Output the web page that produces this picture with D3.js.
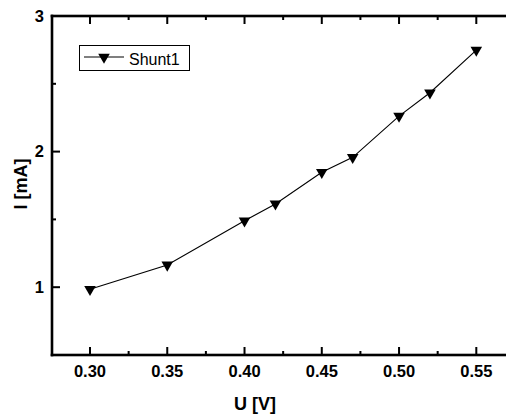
<!DOCTYPE html>
<html><head><meta charset="utf-8">
<script src="https://cdn.jsdelivr.net/npm/d3@7"></script>
<style>body{margin:0;background:#fff}svg{display:block}</style>
</head><body><svg id="c" width="506" height="414"></svg>
<script>
const voltages = [0.30, 0.35, 0.40, 0.42, 0.45, 0.47, 0.50, 0.52, 0.55];
const currents = [0.985, 1.164, 1.49, 1.614, 1.847, 1.958, 2.262, 2.434, 2.749];
const seriesName = "Shunt1";
const xTicks = [0.30, 0.35, 0.40, 0.45, 0.50, 0.55];
const xMinor = [0.325, 0.375, 0.425, 0.475, 0.525];
const yTicks = [1, 2, 3];
const yMinor = [1.5, 2.5];

const svg = d3.select("#c");
const L = 52, T = 16, R = 516, B = 355;
const x = d3.scaleLinear().domain([0.27541, 0.57569]).range([L, R]);
const y = d3.scaleLinear().domain([0.5, 3]).range([B, T]);
const font = "Liberation Sans, Arial, sans-serif";
const xf = d3.format(".2f"), yf = d3.format("d");

// frame
const fc = "#000";
svg.append("rect").attr("x",L-1.3).attr("y",T-1.3).attr("width",2.6).attr("height",B-T+2.6).attr("fill",fc);
svg.append("rect").attr("x",L-1.3).attr("y",T-1.3).attr("width",R-L+2.6).attr("height",2.6).attr("fill",fc);
svg.append("rect").attr("x",L-1.3).attr("y",B-1.3).attr("width",R-L+2.6).attr("height",2.6).attr("fill",fc);
svg.append("rect").attr("x",R-1.3).attr("y",T-1.3).attr("width",2.6).attr("height",B-T+2.6).attr("fill",fc);

// inward ticks
const tk = svg.append("g").attr("fill","#000");
function vt(vals, len){
  vals.forEach(v=>{
    tk.append("rect").attr("x",x(v)-1).attr("width",2).attr("y",B-len).attr("height",len);
    tk.append("rect").attr("x",x(v)-1).attr("width",2).attr("y",T).attr("height",len);
  });
}
function ht(vals, len){
  vals.forEach(v=>{
    tk.append("rect").attr("y",y(v)-1).attr("height",2).attr("x",L).attr("width",len);
    tk.append("rect").attr("y",y(v)-1).attr("height",2).attr("x",R-len).attr("width",len);
  });
}
vt(xTicks, 8); vt(xMinor, 4); ht(yTicks, 8); ht(yMinor, 4);

// tick labels
svg.append("g").selectAll("text").data(xTicks).join("text")
  .attr("x",d=>x(d)).attr("y",377).attr("text-anchor","middle")
  .attr("font-family",font).attr("font-weight","bold").attr("font-size",16.5).text(d=>xf(d));
svg.append("g").selectAll("text").data(yTicks).join("text")
  .attr("x",44).attr("y",d=>y(d)).attr("dy","0.35em").attr("text-anchor","end")
  .attr("font-family",font).attr("font-weight","bold").attr("font-size",16.5).text(d=>yf(d));

// series
svg.append("path")
  .datum(voltages.map((v,i)=>[v,currents[i]]))
  .attr("d", d3.line().x(d=>x(d[0])).y(d=>y(d[1])))
  .attr("fill","none").attr("stroke","#000").attr("stroke-width",1.1);
const tri = d3.symbol().type(d3.symbolTriangle).size(58)();
svg.selectAll("path.m").data(voltages).join("path").attr("class","m")
  .attr("d", tri)
  .attr("transform",(d,i)=>`translate(${x(d)},${y(currents[i])}) rotate(180)`)
  .attr("fill","#000");

// titles
svg.append("text").attr("x",255).attr("y",410).attr("text-anchor","middle")
  .attr("font-family",font).attr("font-weight","bold").attr("font-size",18).text("U [V]");
svg.append("text").attr("transform",`translate(27,184) rotate(-90)`).attr("text-anchor","middle")
  .attr("font-family",font).attr("font-weight","bold").attr("font-size",18).text("I [mA]");

// legend
const lg = svg.append("g");
lg.append("rect").attr("x",79.5).attr("y",45.5).attr("width",110).attr("height",25)
  .attr("fill","#fff").attr("stroke","#000").attr("stroke-width",1);
lg.append("line").attr("x1",84).attr("x2",124).attr("y1",57).attr("y2",57).attr("stroke","#000").attr("stroke-width",1.1);
lg.append("path").attr("d",tri).attr("transform","translate(104,57) rotate(180)").attr("fill","#000");
lg.append("text").attr("x",129).attr("y",65).attr("font-family",font).attr("font-size",16).text(seriesName);
</script></body></html>
